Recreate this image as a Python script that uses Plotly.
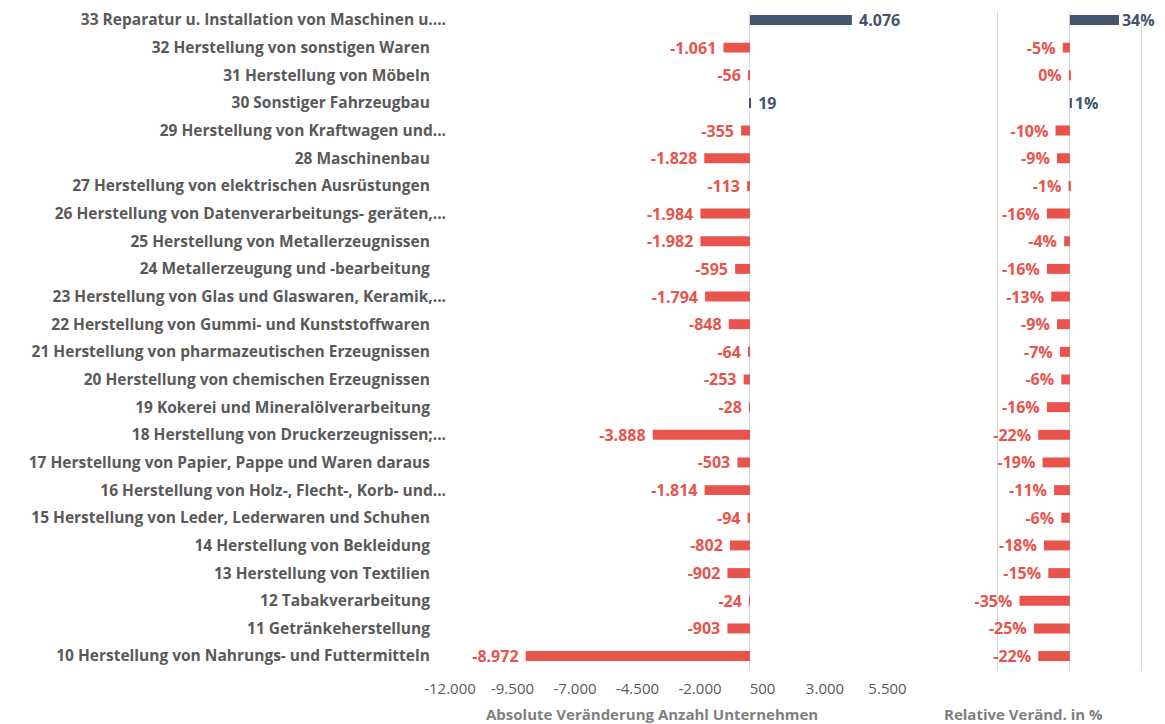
import plotly.graph_objects as go

categories = [
    "33 Reparatur u. Installation von Maschinen u....",
    "32 Herstellung von sonstigen Waren",
    "31 Herstellung von Möbeln",
    "30 Sonstiger Fahrzeugbau",
    "29 Herstellung von Kraftwagen und...",
    "28 Maschinenbau",
    "27 Herstellung von elektrischen Ausrüstungen",
    "26 Herstellung von Datenverarbeitungs- geräten,...",
    "25 Herstellung von Metallerzeugnissen",
    "24 Metallerzeugung und -bearbeitung",
    "23 Herstellung von Glas und Glaswaren, Keramik,...",
    "22 Herstellung von Gummi- und Kunststoffwaren",
    "21 Herstellung von pharmazeutischen Erzeugnissen",
    "20 Herstellung von chemischen Erzeugnissen",
    "19 Kokerei und Mineralölverarbeitung",
    "18 Herstellung von Druckerzeugnissen;...",
    "17 Herstellung von Papier, Pappe und Waren daraus",
    "16 Herstellung von Holz-, Flecht-, Korb- und...",
    "15 Herstellung von Leder, Lederwaren und Schuhen",
    "14 Herstellung von Bekleidung",
    "13 Herstellung von Textilien",
    "12 Tabakverarbeitung",
    "11 Getränkeherstellung",
    "10 Herstellung von Nahrungs- und Futtermitteln",
]
abs_change = [4076, -1061, -56, 19, -355, -1828, -113, -1984, -1982, -595, -1794, -848,
              -64, -253, -28, -3888, -503, -1814, -94, -802, -902, -24, -903, -8972]
rel_change = [34, -5, -0.3, 1, -10, -9, -1, -16, -4, -16, -13, -9,
              -7, -6, -16, -22, -19, -11, -6, -18, -15, -35, -25, -22]
x_tickvals = [-12000, -9500, -7000, -4500, -2000, 500, 3000, 5500]
x_ticktext = ["-12.000", "-9.500", "-7.000", "-4.500", "-2.000", "500", "3.000", "5.500"]
title_abs = "Absolute Veränderung Anzahl Unternehmen"
title_rel = "Relative Veränd. in %"

RED = "#E8534B"
BLUE = "#44546A"
FONT = "Open Sans"
NB = "\u00a0"

def de_num(v):
    return f"{v:,}".replace(",", ".")

abs_colors = [BLUE if v > 0 else RED for v in abs_change]
rel_colors = [BLUE if v > 0 else RED for v in rel_change]
# a little extra room between bar end and its label
abs_text = [de_num(v) + NB if v < 0 else NB + de_num(v) for v in abs_change]
rel_text = [f"{round(v)}%" + NB if v < 0 else f"{round(v)}%" for v in rel_change]
# labels without an ellipsis sit slightly further left in the reference
tick_labels = [c if c.endswith("...") else c + NB * 4 for c in categories]

fig = go.Figure()
fig.add_trace(go.Bar(
    y=categories, x=abs_change, orientation="h",
    marker=dict(color=abs_colors, line=dict(width=0)),
    text=abs_text, textposition="outside", cliponaxis=False, constraintext="none",
    textfont=dict(family=FONT, size=16, color=abs_colors, weight="bold"),
    xaxis="x", yaxis="y", hoverinfo="skip",
))
fig.add_trace(go.Bar(
    y=categories, x=[v / 100 for v in rel_change], orientation="h",
    marker=dict(color=rel_colors, line=dict(width=0)),
    text=rel_text, textposition="outside", cliponaxis=False, constraintext="none",
    textfont=dict(family=FONT, size=16, color=rel_colors, weight="bold"),
    xaxis="x2", yaxis="y", hoverinfo="skip",
))

PLOT_H = 662
fig.update_layout(
    width=1157, height=716,
    margin=dict(l=442, r=5, t=0, b=54),
    paper_bgcolor="white", plot_bgcolor="white",
    showlegend=False, bargap=0.64,
    font=dict(family=FONT, color="#595959"),
    xaxis=dict(
        domain=[0, 0.6866], range=[-12000, 7500],
        tickvals=x_tickvals, ticktext=x_ticktext,
        showgrid=False, zeroline=True, zerolinecolor="#D9D9D9", zerolinewidth=1,
        showline=False, ticks="", ticklabelstandoff=8,
        tickfont=dict(family=FONT, size=15, color="#595959"),
    ),
    xaxis2=dict(
        domain=[0.697, 1.0], range=[-0.868, 0.625], anchor="y",
        tick0=0, dtick=0.5, showgrid=True, gridcolor="#D9D9D9", gridwidth=1,
        zeroline=True, zerolinecolor="#D9D9D9", zerolinewidth=1,
        showticklabels=False, ticks="", showline=False,
    ),
    yaxis=dict(
        categoryorder="array", categoryarray=categories[::-1],
        tickvals=categories, ticktext=tick_labels,
        autorange=False, range=[-0.504, 23.324],
        showgrid=False, zeroline=False, showline=False, ticks="",
        ticklabelstandoff=3,
        tickfont=dict(family=FONT, size=15.5, color="#595959", weight="bold"),
    ),
    annotations=[
        dict(text=title_abs, xref="paper", yref="paper", x=(644 - 442) / 710, y=-44 / PLOT_H,
             xanchor="center", yanchor="middle", showarrow=False,
             font=dict(family=FONT, size=15, color="#7F7F7F", weight="bold")),
        dict(text=title_rel, xref="paper", yref="paper", x=(1015 - 442) / 710, y=-44 / PLOT_H,
             xanchor="center", yanchor="middle", showarrow=False,
             font=dict(family=FONT, size=15, color="#7F7F7F", weight="bold")),
    ],
)

fig.write_html("out.html")
